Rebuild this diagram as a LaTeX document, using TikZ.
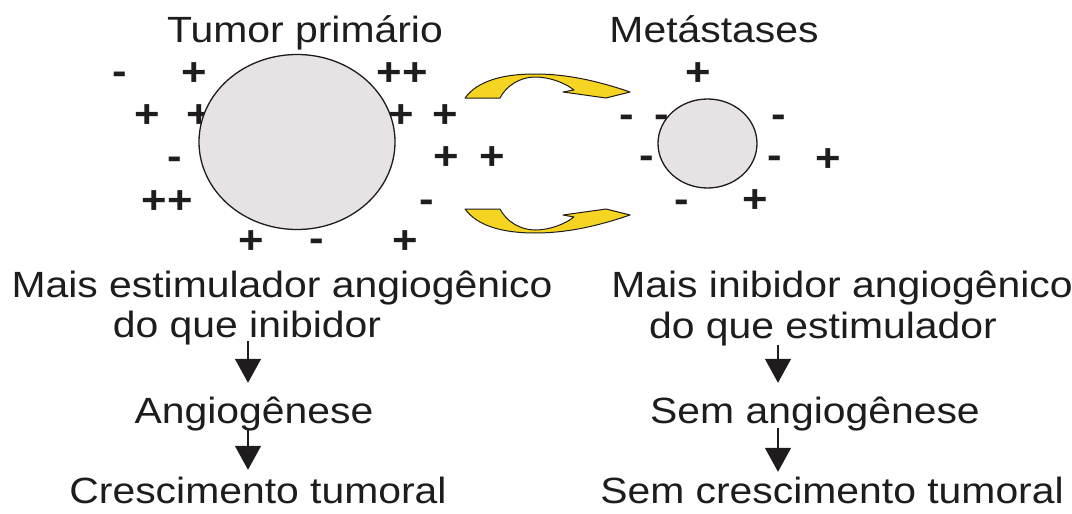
\documentclass[tikz,border=0pt]{standalone}
\usepackage{fontspec}
\setmainfont{Liberation Sans}[FakeStretch=1.12]
\usetikzlibrary{shapes.geometric,arrows.meta}
\definecolor{ink}{RGB}{30,28,28}
\definecolor{tumorfill}{RGB}{231,226,228}
\definecolor{arrowyellow}{RGB}{246,212,34}
\begin{document}
\begin{tikzpicture}[x=1pt,y=-1pt,
  lbl/.style={font=\fontsize{36.5}{40}\selectfont, text=ink, inner sep=0pt, anchor=base, text height=26pt, text depth=0pt},
  sgn/.style={font=\fontsize{39}{40}\selectfont\bfseries, text=ink, inner sep=0pt, anchor=center, text depth=0pt},
  pl/.style={sgn, text height=27.5pt},
  mi/.style={sgn, text height=21pt},
  tumor/.style={ellipse, draw=ink, line width=1.3pt, fill=tumorfill, inner sep=0pt},
  dn/.style={draw=ink, line width=1.3pt, -{Triangle[length=24pt,width=26pt]}},
  curved/.style={fill=arrowyellow, draw=ink, line width=1pt, line join=round}
]
\useasboundingbox (0,0) rectangle (1072,514);
\fill[white] (0,0) rectangle (1072,514);

% titles
\node[lbl] (ttp) at (305,42) {Tumor primário};
\node[lbl] (tmt) at (714,42) {Metástases};

% signs around primary tumour
\node[mi] (s1) at (120,74) {-};
\node[pl] (s2) at (194,72) {+};
\node[pl] (s3) at (402,72) {++};
\node[pl] (s4) at (147,114) {+};
\node[pl] (s5) at (199,114) {+};
\node[pl] (s6) at (401,114) {+};
\node[pl] (s7) at (445,114) {+};
\node[mi] (s8) at (175,159) {-};
\node[pl] (s9) at (446,156) {+};
\node[pl] (s10) at (492,156) {+};
\node[pl] (s11) at (167,200) {++};
\node[mi] (s12) at (427,202) {-};
\node[pl] (s13) at (251,240) {+};
\node[mi] (s14) at (317,241) {-};
\node[pl] (s15) at (405,240) {+};

% signs around metastasis
\node[pl] (m1) at (698,72) {+};
\node[mi] (m2) at (627,117) {-};
\node[mi] (m3) at (662,117) {-};
\node[mi] (m4) at (779,117) {-};
\node[mi] (m5) at (647,158) {-};
\node[mi] (m6) at (775,158) {-};
\node[pl] (m7) at (828,158) {+};
\node[mi] (m8) at (682,202) {-};
\node[pl] (m9) at (755,199) {+};

% tumours
\node[tumor, minimum width=196pt, minimum height=175pt] (tp) at (297,142) {};
\node[tumor, minimum width=99pt, minimum height=89pt] (mt) at (707.5,143.5) {};

% curved yellow arrows
\path[curved] (465,98) .. controls (478,80) and (505,74) .. (535,74)
  .. controls (565,74) and (595,80) .. (630,92) -- (606,98) -- (563,92) -- (574,90)
  .. controls (565,83) and (550,77) .. (535,77)
  .. controls (520,77) and (506,86) .. (500,98) -- cycle;
\path[curved] (465,209) .. controls (478,227) and (505,233) .. (535,233)
  .. controls (565,233) and (595,227) .. (630,215) -- (606,209) -- (563,215) -- (574,217)
  .. controls (565,224) and (550,230) .. (535,230)
  .. controls (520,230) and (506,221) .. (500,209) -- cycle;

% left column
\node[lbl] (l1) at (282,297) {Mais estimulador angiogênico};
\node[lbl] (l2) at (247,337) {do que inibidor};
\node[lbl] (l3) at (254,423) {Angiogênese};
\node[lbl] (l4) at (258,503) {Crescimento tumoral};

% right column
\node[lbl] (r1) at (842,297) {Mais inibidor angiogênico};
\node[lbl] (r2) at (823,338) {do que estimulador};
\node[lbl] (r3) at (815,423) {Sem angiogênese};
\node[lbl] (r4) at (832,503) {Sem crescimento tumoral};

% arrow columns
\coordinate (axl) at (248,0);
\coordinate (axr) at (778,0);
\draw[dn, shorten <=4pt, shorten >=14pt] (l2.south -| axl) -- (l3.north -| axl);
\draw[dn, shorten <=7pt, shorten >=7pt] (l3.south -| axl) -- (l4.north -| axl);
\draw[dn, shorten <=7pt, shorten >=14pt] (r2.south -| axr) -- (r3.north -| axr);
\draw[dn, shorten <=5pt, shorten >=5pt] (r3.south -| axr) -- (r4.north -| axr);
\end{tikzpicture}
\end{document}
